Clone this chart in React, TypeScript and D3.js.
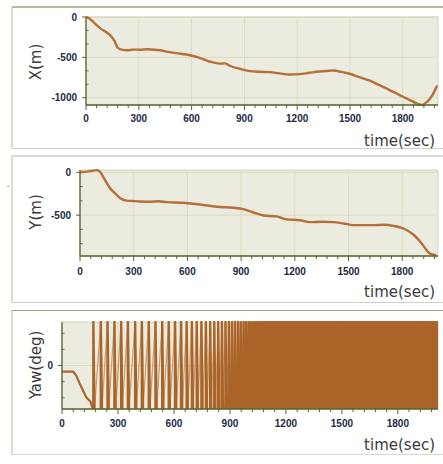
import React from "react";
import * as d3 from "d3";

// ---------- data ----------
const timeTicks = [0, 300, 600, 900, 1200, 1500, 1800];

const xTime = [0, 10, 32, 60, 88, 117, 145, 164, 179, 202, 231, 270, 306, 350, 400, 430, 457, 514, 570, 646, 703, 760, 790, 817, 873, 930, 987, 1043, 1100, 1157, 1213, 1270, 1327, 1383, 1410, 1440, 1497, 1553, 1610, 1667, 1723, 1780, 1837, 1884, 1912, 1940, 1969, 1995];
const xPos = [0, -8, -42, -100, -150, -190, -245, -305, -378, -405, -412, -404, -405, -400, -408, -415, -428, -448, -465, -505, -551, -578, -574, -604, -641, -670, -679, -683, -699, -712, -708, -691, -675, -666, -662, -675, -703, -745, -786, -844, -902, -964, -1026, -1075, -1088, -1047, -964, -848];
const xTickVals = [0, -500, -1000];

const yTime = [0, 37, 56, 75, 93, 112, 140, 168, 196, 233, 260, 298, 335, 391, 440, 484, 577, 670, 763, 856, 912, 968, 1024, 1098, 1154, 1229, 1285, 1350, 1415, 1471, 1527, 1639, 1700, 1751, 1807, 1862, 1909, 1955, 1990];
const yPos = [0, 8, 15, 20, 25, 5, -90, -185, -246, -313, -330, -335, -340, -344, -338, -348, -356, -375, -402, -414, -430, -469, -504, -515, -550, -559, -582, -578, -582, -597, -617, -617, -612, -625, -656, -726, -831, -949, -968];
const yTickVals = [0, -500];

const yawTime = [0, 59, 75, 98, 130, 152, 165];
const yawVal = [-25, -25, -40, -80, -131, -149, -178];
const yawWrapTimes = [168, 208, 244, 281, 317, 353, 392, 428, 465, 501, 537, 572, 606, 638, 668, 696, 722, 747, 771, 794, 816, 837, 857, 876, 894, 911, 927, 943, 958, 973, 987, 1001, 1014, 1027, 1040, 1052, 1064, 1076, 1088, 1099, 1110, 1121, 1132, 1143, 1154, 1165, 1176, 1187, 1198, 1209, 1220, 1231, 1242, 1253, 1264, 1275, 1286, 1297, 1308, 1319, 1330, 1341, 1352, 1363, 1374, 1385, 1396, 1407, 1418, 1429, 1440, 1451, 1462, 1473, 1484, 1495, 1506, 1517, 1528, 1539, 1550, 1561, 1572, 1583, 1594, 1605, 1616, 1627, 1638, 1649, 1660, 1671, 1682, 1693, 1704, 1715, 1726, 1737, 1748, 1759, 1770, 1781, 1792, 1803, 1814, 1825, 1836, 1847, 1858, 1869, 1880, 1891, 1902, 1913, 1924, 1935, 1946, 1957, 1968, 1979, 1990, 2001, 2012];
const yawTickVals = [0];

// ---------- styles ----------
const BG = "#ecebdf";
const GRID = "#d9dcbf";
const AXIS = "#56652f";
const LINE = "#b5703a";
const YAW = "#aa6428";
const LABEL = "#222a44";
const TITLE = "#3a3a3a";
const FRAME = "#9aa57a";

type PanelProps = {
  id: string;
  left: number; right: number; top: number; bottom: number;
  tMax: number;
  yDomain: [number, number];
  yMajor: number;
  yTicks: number[];
  title: string;
  titleY: number;
  timeY: number;
  labelDy: number;
  children: (x: d3.ScaleLinear<number, number>, y: d3.ScaleLinear<number, number>) => React.ReactNode;
};

function Panel(p: PanelProps) {
  const x = d3.scaleLinear().domain([0, p.tMax]).range([p.left, p.right]);
  const y = d3.scaleLinear().domain(p.yDomain).range([p.bottom, p.top]);
  const minorX = d3.range(0, p.tMax + 0.1, 60);
  const step = p.yMajor / 3;
  const yMinor: number[] = [];
  for (let v = Math.ceil(p.yDomain[0] / step) * step; v <= p.yDomain[1] + 0.01; v += step) yMinor.push(v);
  return (
    <g>
      <rect x={p.left} y={p.top} width={p.right - p.left} height={p.bottom - p.top} fill={BG} />
      {timeTicks.filter((t) => t > 0).map((t) => (
        <line key={"gx" + t} x1={x(t)} x2={x(t)} y1={p.top} y2={p.bottom} stroke={GRID} strokeWidth={1} />
      ))}
      {p.yTicks.map((v) => (
        <line key={"gy" + v} x1={p.left} x2={p.right} y1={y(v)} y2={y(v)} stroke={GRID} strokeWidth={1} />
      ))}
      <rect x={p.left} y={p.top} width={p.right - p.left} height={p.bottom - p.top} fill="none" stroke="#d3d6bb" strokeWidth={1} />
      <clipPath id={"clip" + p.id}>
        <rect x={p.left} y={p.top - 1} width={p.right - p.left} height={p.bottom - p.top + 2} />
      </clipPath>
      <g clipPath={`url(#clip${p.id})`}>{p.children(x, y)}</g>
      <line x1={p.left} x2={p.left} y1={p.top} y2={p.bottom} stroke={AXIS} strokeWidth={1.3} />
      <line x1={p.left} x2={p.right} y1={p.bottom} y2={p.bottom} stroke={AXIS} strokeWidth={1.3} />
      {minorX.map((t) => (
        <line key={"mx" + t} x1={x(t)} x2={x(t)} y1={p.bottom} y2={p.bottom + (t % 300 === 0 ? 5 : 3)} stroke={AXIS} strokeWidth={1} />
      ))}
      {yMinor.map((v, i) => {
        const major = Math.abs(v / p.yMajor - Math.round(v / p.yMajor)) < 1e-6;
        return (
          <line key={"my" + i} x1={major ? p.left - 4 : p.left} x2={major ? p.left : p.left + 2.5} y1={y(v)} y2={y(v)} stroke={AXIS} strokeWidth={1} />
        );
      })}
      {timeTicks.map((t) => (
        <text key={"lx" + t} x={x(t)} y={p.bottom + p.labelDy} textAnchor="middle" fontFamily="Liberation Sans, Arial, sans-serif" fontWeight="bold" fontSize={10} fill={LABEL}>
          {t}
        </text>
      ))}
      {p.yTicks.map((v) => (
        <text key={"ly" + v} x={p.left - 9} y={y(v) + 3.6} textAnchor="end" fontFamily="Liberation Sans, Arial, sans-serif" fontWeight="bold" fontSize={10} fill={LABEL}>
          {v}
        </text>
      ))}
      <text transform={`translate(41,${p.titleY}) rotate(-90)`} textAnchor="middle" fontFamily="DejaVu Sans, Verdana, sans-serif" fontSize={15} fill={TITLE}>
        {p.title}
      </text>
      <text x={435} y={p.timeY} textAnchor="end" fontFamily="DejaVu Sans, Verdana, sans-serif" fontSize={15} fill={TITLE}>
        time(sec)
      </text>
    </g>
  );
}

function pairs(ts: number[], vs: number[]): [number, number][] {
  return ts.map((t, i) => [t, vs[i]]);
}

export default function App() {
  const W = 443, H = 464;
  const DESCENT = 6;
  return (
    <svg width={W} height={H} style={{ position: "absolute", left: 0, top: 0, background: "#fff" }}>
      <line x1={12} x2={443} y1={7} y2={7} stroke={FRAME} strokeWidth={1.3} />
      <line x1={12} x2={12} y1={7} y2={148} stroke="#b4bc98" strokeWidth={1} />
      <line x1={12} x2={443} y1={148.5} y2={148.5} stroke="#cfd2c2" strokeWidth={1} />
      <line x1={12} x2={443} y1={156} y2={156} stroke="#b4b8a6" strokeWidth={1} />
      <line x1={12} x2={12} y1={156} y2={302} stroke="#b4bc98" strokeWidth={1} />
      <line x1={12} x2={443} y1={302.5} y2={302.5} stroke="#cfd2c2" strokeWidth={1} />
      <line x1={12} x2={443} y1={310.5} y2={310.5} stroke={FRAME} strokeWidth={1.2} />
      <line x1={12} x2={12} y1={310} y2={455} stroke="#b4bc98" strokeWidth={1} />
      <line x1={12} x2={443} y1={454.5} y2={454.5} stroke="#d6d8cc" strokeWidth={1} />
      <rect x={7.5} y={185.5} width={1.2} height={1.2} fill="#4a66d8" />

      <Panel id="x" left={86} right={438} top={17} bottom={105} tMax={2000} yDomain={[-1090, 0]} yMajor={500} yTicks={xTickVals}
        title="X(m)" titleY={62} timeY={146} labelDy={16.5}>
        {(x, y) => (
          <path d={d3.line<[number, number]>().x((d) => x(d[0])).y((d) => y(d[1])).curve(d3.curveMonotoneX)(pairs(xTime, xPos)) || ""}
            fill="none" stroke={LINE} strokeWidth={2.4} strokeLinejoin="round" />
        )}
      </Panel>

      <Panel id="y" left={80} right={438} top={170} bottom={256} tMax={2000} yDomain={[-977, 27]} yMajor={500} yTicks={yTickVals}
        title="Y(m)" titleY={212} timeY={297} labelDy={19}>
        {(x, y) => (
          <path d={d3.line<[number, number]>().x((d) => x(d[0])).y((d) => y(d[1])).curve(d3.curveMonotoneX)(pairs(yTime, yPos)) || ""}
            fill="none" stroke={LINE} strokeWidth={2.4} strokeLinejoin="round" />
        )}
      </Panel>

      <Panel id="yaw" left={62} right={438} top={322} bottom={409} tMax={2015} yDomain={[-180, 180]} yMajor={200} yTicks={yawTickVals}
        title="Yaw(deg)" titleY={365} timeY={450} labelDy={17.5}>
        {(x, y) => {
          const line = d3.line<[number, number]>().x((d) => x(d[0])).y((d) => y(d[1]));
          const rises = yawWrapTimes.slice(0, -1).map((t, i) => line([[t + DESCENT, -180], [yawWrapTimes[i + 1], 180]]) || "").join("");
          const falls = yawWrapTimes.map((t) => line([[t, -180], [t, 180], [t + DESCENT, -180]]) || "").join("");
          return (
            <g>
              <path d={line(pairs(yawTime, yawVal)) || ""} fill="none" stroke={YAW} strokeWidth={2.2} strokeLinejoin="round" />
              <path d={rises} fill="none" stroke={YAW} strokeOpacity={0.55} strokeWidth={1.3} />
              <path d={falls} fill="none" stroke={YAW} strokeWidth={2.4} strokeLinejoin="round" />
            </g>
          );
        }}
      </Panel>
    </svg>
  );
}
